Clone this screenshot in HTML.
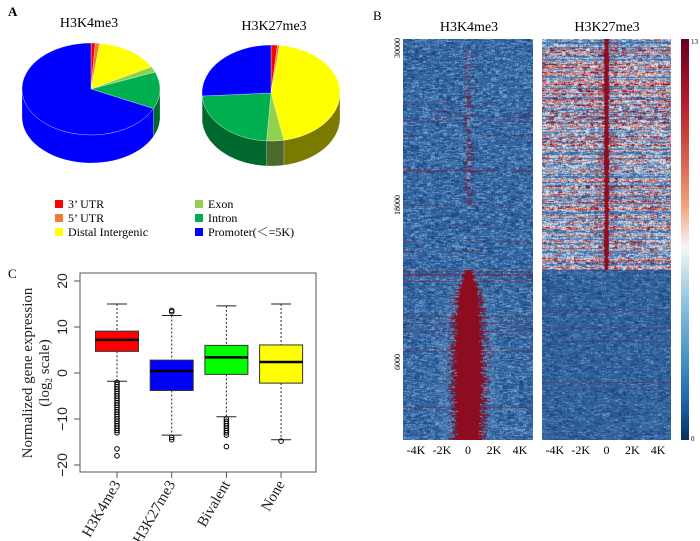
<!DOCTYPE html>
<html><head><meta charset="utf-8">
<style>
html,body{margin:0;padding:0;background:#fff;}
body{width:700px;height:541px;position:relative;overflow:hidden;font-family:"Liberation Serif","Noto Serif CJK SC",serif;}
.abs{position:absolute;}
canvas{position:absolute;}
</style></head>
<body>
<svg class="abs" style="left:0;top:0" width="700" height="541" id="fig">
  <text x="8" y="16" font-size="13" font-weight="bold">A</text>
  <text x="373" y="20" font-size="13">B</text>
  <text x="8" y="278" font-size="13">C</text>
  <text x="89" y="27" font-size="14" text-anchor="middle">H3K4me3</text>
  <text x="274" y="30" font-size="14" text-anchor="middle">H3K27me3</text>
  <g id="pies"></g>
  <g font-size="12">
    <rect x="55" y="200" width="8" height="8" fill="#ff0000"/>
    <text x="68" y="208">3’ UTR</text>
    <rect x="55" y="214" width="8" height="8" fill="#ed7d31"/>
    <text x="68" y="222">5’ UTR</text>
    <rect x="55" y="228" width="8" height="8" fill="#ffff00"/>
    <text x="68" y="236">Distal Intergenic</text>
    <rect x="195" y="200" width="8" height="8" fill="#92d050"/>
    <text x="208" y="208">Exon</text>
    <rect x="195" y="214" width="8" height="8" fill="#00b050"/>
    <text x="208" y="222">Intron</text>
    <rect x="195" y="228" width="8" height="8" fill="#0000ff"/>
    <text x="208" y="236">Promoter(＜=5K)</text>
  </g>
  <text x="469" y="31" font-size="14" text-anchor="middle">H3K4me3</text>
  <text x="607" y="31" font-size="14" text-anchor="middle">H3K27me3</text>
  <g font-size="8">
    <text transform="translate(400,48) rotate(-90)" text-anchor="middle">30000</text>
    <text transform="translate(400,205) rotate(-90)" text-anchor="middle">18000</text>
    <text transform="translate(400,362) rotate(-90)" text-anchor="middle">6000</text>
  </g>
  <g id="hmx" font-size="12" text-anchor="middle"></g>
  <defs>
    <linearGradient id="cbar" x1="0" y1="0" x2="0" y2="1">
      <stop offset="0" stop-color="#67001f"/>
      <stop offset="0.15" stop-color="#b2182b"/>
      <stop offset="0.3" stop-color="#d6604d"/>
      <stop offset="0.42" stop-color="#f4a582"/>
      <stop offset="0.52" stop-color="#f7f7f7"/>
      <stop offset="0.65" stop-color="#92c5de"/>
      <stop offset="0.8" stop-color="#4393c3"/>
      <stop offset="0.9" stop-color="#2166ac"/>
      <stop offset="1" stop-color="#053061"/>
    </linearGradient>
  </defs>
  <rect x="681" y="39" width="8" height="401" fill="url(#cbar)"/>
  <text x="691" y="44" font-size="7">13</text>
  <text x="691" y="441" font-size="7">0</text>
  <g id="box"></g>
</svg>
<canvas id="hm1" width="130" height="401" style="left:403px;top:39px"></canvas>
<canvas id="hm2" width="129" height="401" style="left:542px;top:39px"></canvas>
<script>
const NS="http://www.w3.org/2000/svg";
function mk(tag,attrs,parent){const e=document.createElementNS(NS,tag);for(const k in attrs)e.setAttribute(k,attrs[k]);parent.appendChild(e);return e;}

// ---------- Pie data ----------
const pieCategories=["3' UTR","5' UTR","Distal Intergenic","Exon","Intron","Promoter"];
const pieColors=["#ff0000","#ed7d31","#ffff00","#92d050","#00b050","#0000ff"];
const sideColors=["#b00000","#a04e1a","#7a7a00","#4d6a2c","#006a2e","#0000ff"];
const pieH3K4me3=[1,1,15,2,13,68];
const pieH3K27me3=[1.5,0.5,45,4,23,26];

function drawPie(vals,cx,cy,rx,ry,depth,name){
  const g=mk("g",{},document.getElementById("pies"));
  
  
  const tot=vals.reduce((a,b)=>a+b,0);
  const pt=(a,dy)=>[cx+rx*Math.sin(a),cy-ry*Math.cos(a)+(dy||0)];
  let a=0;const angles=[];
  vals.forEach(v=>{const b=a+v/tot*2*Math.PI;angles.push([a,b]);a=b;});
  angles.forEach(([a1,a2],i)=>{
    const s=Math.max(a1,Math.PI/2),e=Math.min(a2,3*Math.PI/2);
    if(e<=s)return;
    let d="";const N=30;
    for(let k=0;k<=N;k++){const p=pt(s+(e-s)*k/N);d+=(k?"L":"M")+p[0].toFixed(1)+","+p[1].toFixed(1);}
    for(let k=N;k>=0;k--){const p=pt(s+(e-s)*k/N,depth);d+="L"+p[0].toFixed(1)+","+p[1].toFixed(1);}
    const el=mk("path",{d:d+"Z",fill:sideColors[i],stroke:"#fff","stroke-width":0.4,"stroke-opacity":0.5},g);
    
    
  });
  angles.forEach(([a1,a2],i)=>{
    const p1=pt(a1),p2=pt(a2);
    const large=(a2-a1)>Math.PI?1:0;
    const el=mk("path",{d:`M${cx},${cy}L${p1[0]},${p1[1]}A${rx},${ry} 0 ${large} 1 ${p2[0]},${p2[1]}Z`,fill:pieColors[i],stroke:"#fff","stroke-width":0.5,"stroke-opacity":0.6},g);
    
    
  });
}
drawPie(pieH3K4me3,91,89,69,46,28,"pie-h3k4me3");
drawPie(pieH3K27me3,271,93,69,48,25,"pie-h3k27me3");

// ---------- Heatmap x ticks ----------
const hmTicks=["-4K","-2K","0","2K","4K"];
const hmTickPos=[-4,-2,0,2,4];
[[403,130],[542,129]].forEach(([x0,w])=>{
  hmTickPos.forEach((t,i)=>{
    const x=x0+w/2+t/5*(w/2);
    const tx=mk("text",{x:x,y:454},document.getElementById("hmx"));
    tx.textContent=hmTicks[i];
    
    
  });
});

// ---------- Heatmap texture ----------
function hash(a,b){let h=(a*374761393+b*668265263)|0;h=(h^(h>>>13))*1274126177|0;return ((h^(h>>>16))>>>0)/4294967296;}
function lerp(c1,c2,t){return c1.map((v,i)=>v+(c2[i]-v)*t);}
const BLUE=[52,104,164],LBLUE=[115,158,200],DBLUE=[30,68,126],RED=[140,12,32],PINK=[210,110,100],WHITE=[215,225,236];
function paint(id,w,fn){
  const c=document.getElementById(id),ctx=c.getContext("2d");const img=ctx.createImageData(w,401);
  const salt=id==="hm1"?11:29;
  for(let y=0;y<401;y++){const rowR=hash(y,salt);
    for(let x=0;x<w;x++){const n=(hash(x>>2,y*3+salt)*0.6+hash(x,y+salt*5)*0.4);const col=fn(x,y,rowR,n);const o=(y*w+x)*4;
      img.data[o]=col[0];img.data[o+1]=col[1];img.data[o+2]=col[2];img.data[o+3]=255;}}
  ctx.putImageData(img,0,0);
}
paint("hm1",130,(x,y,rr,n)=>{
  const dx=Math.abs(x-65);
  let c=n<0.3?LBLUE:(n>0.7?DBLUE:BLUE);
  if(y<231){
    if(rr>0.96&&hash(x>>4,y)>0.5)c=lerp(c,RED,0.45);
    if(dx<5&&y>10&&y<165&&n>0.6)c=lerp(c,RED,0.55);
  }else{
    const yy=y-231;let half=yy<25?3+yy*0.3:(yy<100?10.5+(yy-25)*0.05:14-(yy-100)*0.03);
    const j=half*(0.8+0.4*hash(y,3));
    if(dx<j)c=RED;
    else if(dx<j*1.5&&n>0.5)c=lerp(c,RED,0.75);
    else if(dx<j*2.1&&n>0.6)c=lerp(c,LBLUE,0.6);
    if(rr>0.96)c=lerp(c,RED,0.45);
  }
  return c;
});
paint("hm2",129,(x,y,rr,n)=>{
  const dx=Math.abs(x-64);
  let c;
  if(y<231){
    if(dx<1.5+hash(y,9)*1.5)return RED;
    const m=rr*0.45+n*0.55;
    c=m<0.35?BLUE:(m<0.5?LBLUE:(m<0.62?WHITE:(m<0.78?PINK:RED)));
    if(dx<12&&n>0.65)c=lerp(c,RED,0.5);
  }else{
    c=n<0.25?LBLUE:(n>0.7?DBLUE:BLUE);
    c=lerp(c,DBLUE,0.15);
    if(rr>0.97)c=lerp(c,RED,0.3);
  }
  return c;
});

// ---------- Boxplot ----------
const boxCategories=["H3K4me3","H3K27me3","Bivalent","None"];
const boxColors=["#ff0000","#0000ff","#00ff00","#ffff00"];
const boxQ1=[4.7,-3.8,-0.3,-2.2];
const boxMedian=[7.2,0.4,3.4,2.4];
const boxQ3=[9.1,2.8,6.0,6.1];
const boxLowWhisker=[-1.8,-13.5,-9.5,-14.5];
const boxHighWhisker=[15,12.5,14.6,15];
const outliers0=[-2,-2.5,-3,-3.5,-4,-4.5,-5,-5.5,-6,-6.5,-7,-7.5,-8,-8.5,-9,-9.5,-10,-10.5,-11,-11.5,-12,-12.5,-13,-16.5,-18];
const outliers1=[13.3,13.6,-14,-14.5];
const outliers2=[-10,-10.5,-11,-11.5,-12,-12.5,-13,-13.5,-16];
const outliers3=[-14.8];
const boxOutliers=[outliers0,outliers1,outliers2,outliers3];
const yTicks=[-20,-10,0,10,20];

const bx0=80,bx1=316,by0=273,by1=472;
const yScale=v=>373-v*4.6;
const xScale=i=>117+i*54.7;
const B=document.getElementById("box");
const frame=mk("rect",{x:bx0,y:by0,width:bx1-bx0,height:by1-by0,fill:"none",stroke:"#555","stroke-width":1},B);


yTicks.forEach(t=>{
  const y=yScale(t);
  mk("line",{x1:bx0-6,x2:bx0,y1:y,y2:y,stroke:"#555"},B);
  const tx=mk("text",{transform:`translate(${bx0-13},${y}) rotate(-90)`,"text-anchor":"middle","font-family":"Liberation Sans, sans-serif","font-size":14,fill:"#222"},B);
  tx.textContent=t===0?"0":(t<0?"\u2212"+(-t):String(t));
  
  
});
const yt=mk("text",{transform:"translate(32,373) rotate(-90)","text-anchor":"middle","font-size":15,fill:"#222"},B);
yt.textContent="Normalized gene expression";


const yt2=mk("text",{transform:"translate(49,373) rotate(-90)","text-anchor":"middle","font-size":15,fill:"#222"},B);
yt2.innerHTML='(log<tspan font-size="9" dy="3">2</tspan><tspan dy="-3"> scale)</tspan>';


boxCategories.forEach((cat,i)=>{
  const cx=xScale(i),hw=21.5;
  const g=mk("g",{},B);
  
  
  mk("line",{x1:cx,x2:cx,y1:yScale(boxHighWhisker[i]),y2:yScale(boxQ3[i]),stroke:"#222","stroke-dasharray":"2,2"},g);
  mk("line",{x1:cx,x2:cx,y1:yScale(boxQ1[i]),y2:yScale(boxLowWhisker[i]),stroke:"#222","stroke-dasharray":"2,2"},g);
  mk("line",{x1:cx-10,x2:cx+10,y1:yScale(boxHighWhisker[i]),y2:yScale(boxHighWhisker[i]),stroke:"#222"},g);
  mk("line",{x1:cx-10,x2:cx+10,y1:yScale(boxLowWhisker[i]),y2:yScale(boxLowWhisker[i]),stroke:"#222"},g);
  mk("rect",{x:cx-hw,y:yScale(boxQ3[i]),width:2*hw,height:yScale(boxQ1[i])-yScale(boxQ3[i]),fill:boxColors[i],stroke:"#333"},g);
  mk("line",{x1:cx-hw,x2:cx+hw,y1:yScale(boxMedian[i]),y2:yScale(boxMedian[i]),stroke:"#000","stroke-width":2.5},g);
  boxOutliers[i].forEach(v=>{mk("circle",{cx:cx,cy:yScale(v),r:2.3,fill:"none",stroke:"#000","stroke-width":1},g);});
  mk("line",{x1:cx,x2:cx,y1:by1,y2:by1+6,stroke:"#555"},g);
  const lab=mk("text",{transform:`translate(${cx+4},${by1+12}) rotate(-60)`,"text-anchor":"end","font-size":15,fill:"#222"},g);
  lab.textContent=cat;
  
  
});
</script>
</body></html>
